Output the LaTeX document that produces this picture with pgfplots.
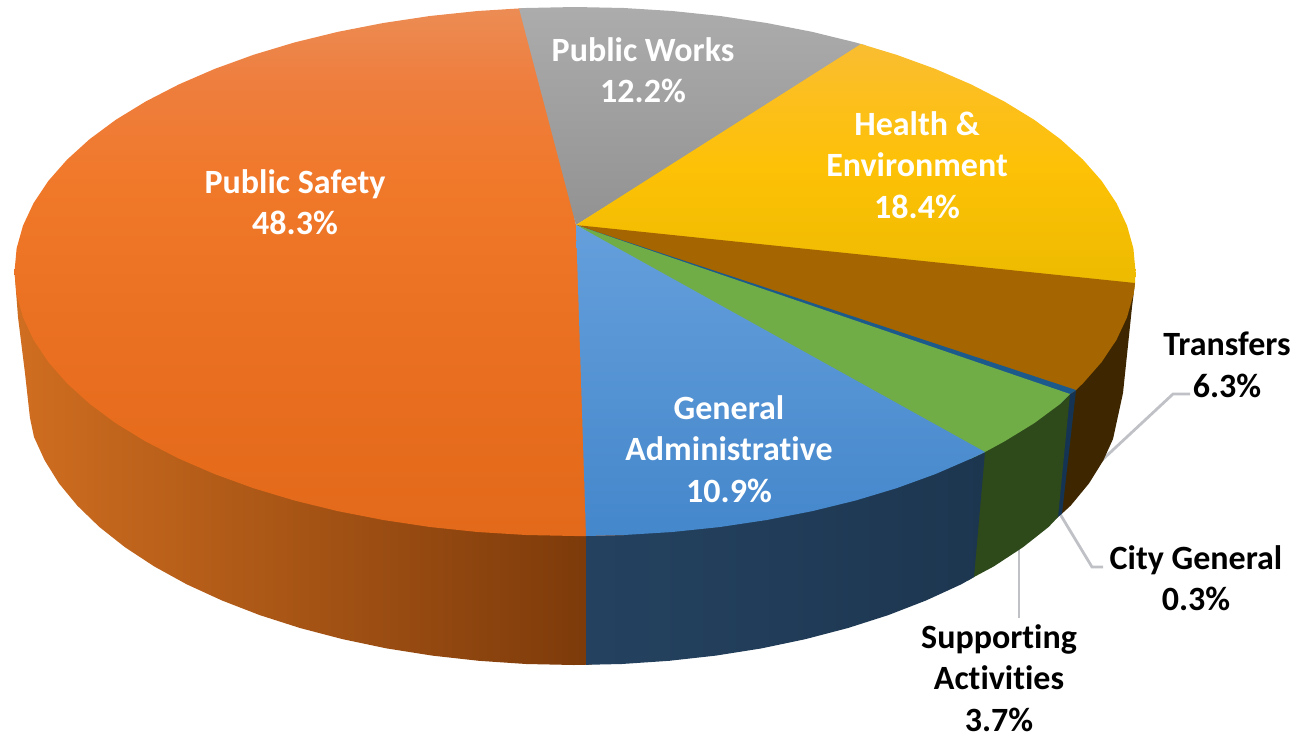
\documentclass[border=0pt]{standalone}
\usepackage{pgfplots}
\pgfplotsset{compat=1.18}
\usepackage{fontspec}
\setmainfont[Ligatures=NoCommon]{Carlito}
\definecolor{lead}{HTML}{BFC1C6}
\definecolor{bluelight}{HTML}{659FDC}
\definecolor{bluemid}{HTML}{5495D6}
\definecolor{bluedark}{HTML}{4487CB}
\definecolor{oa}{RGB}{227,106,26}
\definecolor{ob}{RGB}{233,110,31}
\definecolor{oc}{RGB}{240,120,41}
\definecolor{od}{RGB}{238,126,62}
\definecolor{oe}{RGB}{236,140,84}
\definecolor{ya}{RGB}{235,186,0}
\definecolor{yb}{RGB}{253,193,6}
\definecolor{yc}{RGB}{252,191,30}
\definecolor{yd}{RGB}{249,189,50}
\pgfdeclareverticalshading{orangetop}{100bp}{
  color(0bp)=(oa);
  color(25bp)=(oa);
  color(40bp)=(ob);
  color(58bp)=(oc);
  color(68bp)=(od);
  color(75bp)=(oe);
  color(100bp)=(oe)}
\pgfdeclareverticalshading{yellowtop}{100bp}{
  color(0bp)=(ya);
  color(25bp)=(ya);
  color(50bp)=(yb);
  color(65bp)=(yc);
  color(75bp)=(yd);
  color(100bp)=(yd)}
\tikzset{lab/.style={font=\fontsize{34}{41.5}\selectfont\bfseries, align=center, inner sep=0pt}}
\begin{document}
\begin{tikzpicture}
\begin{axis}[
  scale only axis, width=1297pt, height=736pt,
  xmin=0, xmax=1297, ymin=0, ymax=736, y dir=reverse,
  hide axis, clip=false, no markers]
% invisible frame
\addplot[draw=none] coordinates {(0,0) (1297,736)};
% leader lines
\addplot[lead, line width=2.8pt] coordinates {(1100,462) (1173,394) (1190,394)};
\addplot[lead, line width=2.8pt] coordinates {(1060,514) (1092,567) (1103,567)};
\addplot[lead, line width=2.8pt] coordinates {(1019,545) (1019,618)};
% sides, each one running a little under the next
\addplot[draw=none, fill={rgb,255:red,62;green,39;blue,0}] coordinates {
(1070,394) (1056,518) (1062,513.6) (1070.7,505.6) (1089,483.4) (1103.3,460.4) (1113,439) (1123,393) (1132,307) (1135,283) (1100,330)} -- cycle;
\addplot[draw=none, fill={rgb,255:red,21;green,52;blue,84}] coordinates {
(1065,394) (1052,522) (1058,517) (1062,513.6) (1076,390)} -- cycle;
\addplot[draw=none, fill={rgb,255:red,46;green,73;blue,26}] coordinates {
(980,452) (968,580.5) (974,577) (993.8,566.4) (1022.9,547.3) (1048.6,527) (1058,517) (1070,394) (1030,400)} -- cycle;
\addplot[draw=none, shade, left color={rgb,255:red,208;green,110;blue,32}, middle color={rgb,255:red,180;green,90;blue,22}, right color={rgb,255:red,124;green,58;blue,10}] coordinates {
(592,530) (592,664.6) (574,665) (526.2,664) (478.8,660.8) (432.2,655.6) (386.6,648.4) (342.4,639.1) (300,628) (259.7,615.1) (221.8,600.4) (186.5,584.2) (154.2,566.4) (125.1,547.3) (99.4,527) (77.3,505.6) (59,483.4) (44.7,460.4) (34,437) (30,418) (25,373) (18,317) (14.5,272) (300,300)} -- cycle;
\addplot[draw=none, shade, left color={rgb,255:red,36;green,66;blue,96}, right color={rgb,255:red,29;green,54;blue,80}] coordinates {
(586,530) (586,664.8) (621.8,664) (669.2,660.8) (715.8,655.6) (761.4,648.4) (805.6,639.1) (848,628) (888.3,615.1) (926.2,600.4) (961.5,584.2) (974,577) (985,452) (800,450)} -- cycle;
% top faces, each one running a little under the next
\addplot[draw=none, shading=orangetop] coordinates {
(576,225) (623.9,535) (586,536) (575,536) (526.1,535) (477.7,532) (429.9,527) (383.3,520) (338.1,511.2) (294.7,500.6) (253.5,488.2) (214.7,474.1) (178.7,458.5) (145.7,441.5) (115.8,423.2) (89.6,403.8) (67,383.3) (48.3,362) (33.6,340) (23,317.4) (16.6,294.6) (14.5,271.5) (16.6,248.4) (23,225.6) (33.6,203) (48.3,181) (67,159.7) (89.6,139.2) (115.8,119.8) (145.7,101.5) (178.7,84.5) (214.7,68.9) (253.5,54.8) (294.7,42.4) (338.1,31.8) (383.3,23) (429.9,16) (477.7,11) (526.1,8)} -- cycle;
\addplot[draw=none, shade, top color={rgb,255:red,172;green,172;blue,172}, bottom color={rgb,255:red,146;green,146;blue,146}] coordinates {
(576,225) (519,8.4) (526.1,8) (575,7) (623.9,8) (672.3,11) (720.1,16) (766.7,23) (811.9,31.8) (855.3,42.4) (866,45.4)} -- cycle;
\addplot[draw=none, shading=yellowtop] coordinates {
(576,225) (861,44) (896.5,54.8) (935.3,68.9) (971.3,84.5) (1004.3,101.5) (1034.2,119.8) (1060.4,139.2) (1083,159.7) (1101.7,181) (1116.4,203) (1127,225.6) (1133.4,248.4) (1135.5,271.5) (1135,283) (1133.4,294.6)} -- cycle;
\addplot[draw=none, fill={rgb,255:red,165;green,101;blue,0}] coordinates {
(576,225) (1135,283) (1133.4,294.6) (1127,317.4) (1116.4,340) (1101.7,362) (1083,383.3) (1076,390) (1070,394)} -- cycle;
\addplot[draw=none, fill={rgb,255:red,28;green,90;blue,140}] coordinates {
(576,225) (1076,390) (1070,394) (1060.4,403.8)} -- cycle;
\addplot[draw=none, fill={rgb,255:red,112;green,173;blue,71}] coordinates {
(576,225) (1070,394) (1060.4,403.8) (1034.2,423.2) (1004.3,441.5) (985,452) (971.3,458.5)} -- cycle;
\addplot[draw=none, shade, top color=bluelight, middle color=bluemid, bottom color=bluedark] coordinates {
(576,225) (985,452) (971.3,458.5) (935.3,474.1) (896.5,488.2) (855.3,500.6) (811.9,511.2) (766.7,520) (720.1,527) (672.3,532) (623.9,535) (586,536)} -- cycle;
% labels
\node[lab, text=white] at (axis cs:295,202) {Public Safety\\48.3\%};
\node[lab, text=white] at (axis cs:643,70) {Public Works\\12.2\%};
\node[lab, text=white] at (axis cs:917,165) {Health \&\\Environment\\18.4\%};
\node[lab, text=white] at (axis cs:729,449) {General\\Administrative\\10.9\%};
\node[lab, text=black] at (axis cs:1227,365) {Transfers\\6.3\%};
\node[lab, text=black] at (axis cs:1196,578) {City General\\0.3\%};
\node[lab, text=black] at (axis cs:999,678) {Supporting\\Activities\\3.7\%};
\end{axis}
\end{tikzpicture}
\end{document}
